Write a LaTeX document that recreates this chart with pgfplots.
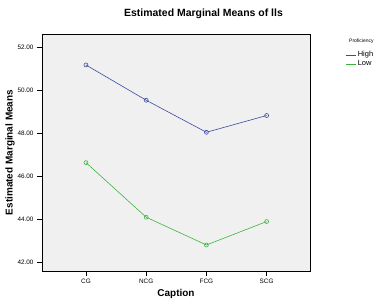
\documentclass[border=0pt]{standalone}
\usepackage{pgfplots}
\pgfplotsset{compat=1.18}
\usepackage{fontspec}
\setmainfont{Liberation Sans}
\definecolor{hiblue}{RGB}{60,75,160}
\definecolor{logreen}{RGB}{60,180,60}
\definecolor{bggray}{RGB}{240,240,240}
\begin{document}
\begin{tikzpicture}
\begin{axis}[
  at={(0,0)}, anchor=south west,
  scale only axis,
  width=268bp, height=237bp,
  xmin=-0.73, xmax=3.72,
  ymin=41.58, ymax=52.6,
  xtick={0,1,2,3},
  xticklabels={CG,NCG,FCG,SCG},
  ytick={42,44,46,48,50,52},
  yticklabel={\pgfmathprintnumber[fixed,fixed zerofill,precision=2]{\tick}},
  /pgf/number format/assume math mode=true,
  tick align=outside,
  major tick length=5bp,
  xtick pos=bottom, ytick pos=left,
  tick style={black, line width=0.5pt},
  ticklabel style={font=\fontsize{6.4}{7}\selectfont},
  axis background/.style={fill=bggray},
  axis line style={black, line width=0.6pt},
  xlabel={\textbf{Caption}},
  ylabel={\textbf{Estimated Marginal Means}},
  xlabel style={font=\fontsize{10}{11}\selectfont, at={(axis description cs:0.5,0)}, anchor=base, yshift=-25bp},
  ylabel style={font=\fontsize{10}{11}\selectfont, at={(axis description cs:-0.1194,0.5)}, anchor=center},
  title={\textbf{Estimated Marginal Means of lls}},
  title style={font=\fontsize{10.5}{12}\selectfont, at={(axis description cs:0.5,1)}, anchor=base, yshift=12bp, xshift=27.5bp},
  legend style={at={(1.1306,0.936)}, anchor=north west, draw=none, fill=none,
    font=\fontsize{7.5}{8}\selectfont, row sep=-1.5bp, inner sep=0pt},
  legend cell align=left,
  legend image code/.code={\draw[#1] (0bp,0bp) -- (10bp,0bp);},
  clip=false,
]
\addplot[hiblue, line width=0.6pt, mark=o, mark size=2pt, forget plot] coordinates {
  (0,51.16) (1,49.52) (2,48.03) (3,48.81)};
\addplot[logreen, line width=0.6pt, mark=o, mark size=2pt, forget plot] coordinates {
  (0,46.62) (1,44.08) (2,42.79) (3,43.88)};
\addlegendimage{draw=hiblue, line width=0.6pt}
\addlegendentry{High}
\addlegendimage{draw=logreen, line width=0.6pt}
\addlegendentry{Low}
\node[anchor=west, inner sep=0pt, font=\fontsize{5}{5}\selectfont] at (axis description cs:1.1455,0.970) {Proficiency};
\end{axis}
\pgfresetboundingbox
\path (-42bp,-29bp) rectangle (340bp,271bp);
\end{tikzpicture}
\end{document}
